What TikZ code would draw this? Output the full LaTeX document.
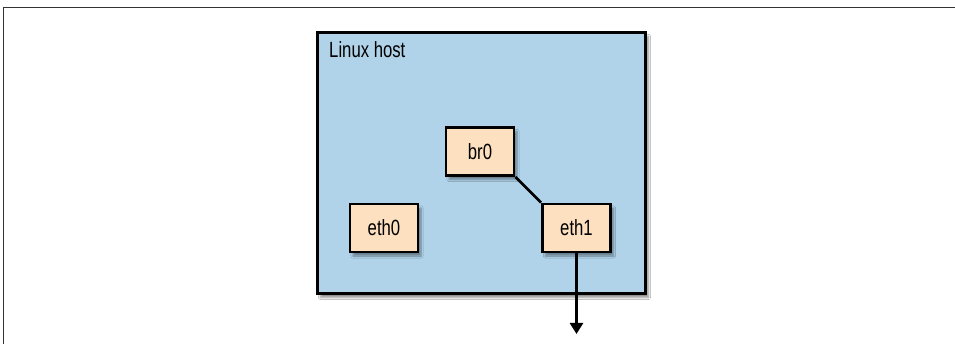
\documentclass[tikz,border=0pt]{standalone}
\usepackage{fontspec}
\setmainfont{Liberation Sans}[FakeStretch=0.76]
\usetikzlibrary{shadows.blur,arrows.meta}
\definecolor{hostblue}{HTML}{B0D3EA}
\definecolor{ifpeach}{HTML}{FDE0BF}
\tikzset{
  hostbox/.style={draw=black, line width=2.8pt, fill=hostblue,
    blur shadow={shadow xshift=3pt, shadow yshift=-4pt, shadow blur steps=6, shadow opacity=45}},
  ifbox/.style={draw=black, line width=2.8pt, fill=ifpeach, minimum width=68pt, minimum height=48pt,
    inner sep=0pt, font=\fontsize{22}{24}\selectfont,
    blur shadow={shadow xshift=3pt, shadow yshift=-4pt, shadow blur steps=6, shadow opacity=40}},
  link/.style={line width=2.5pt, draw=black},
}
\begin{document}
\begin{tikzpicture}[x=1pt,y=-1pt]
\useasboundingbox (0,0) rectangle (955,344);
\fill[white] (0,0) rectangle (955,344);
\draw[line width=1.8pt, draw=black!80] (3.5,344) coordinate (fbl) -- (3.5,7.5) coordinate (ftl) -- (955,7.5) coordinate (ftr);
\node[hostbox, minimum width=328pt, minimum height=261pt, inner sep=0pt, anchor=north west] (host) at (316,31) {};
\node[anchor=base west, inner sep=0pt, font=\fontsize{22}{24}\selectfont] (hostlabel) at (329,58) {Linux host};
\node[ifbox] (br0) at (480,151.5) {br0};
\node[ifbox] (eth0) at (384,228) {eth0};
\node[ifbox] (eth1) at (576.5,228) {eth1};
\coordinate (out) at (576.5,334);
\draw[link] (br0.south east) -- (eth1.north west);
\draw[link, -{Triangle[length=11pt,width=13pt]}] (eth1.south) -- (out);
\end{tikzpicture}
\end{document}
